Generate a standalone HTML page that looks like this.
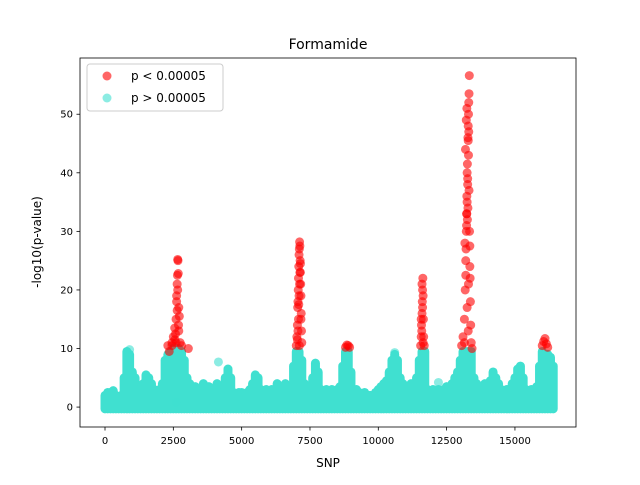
<!DOCTYPE html>
<html><head><meta charset="utf-8"><style>
body{margin:0;background:#fff;font-family:"Liberation Sans","DejaVu Sans",sans-serif}
</style></head><body>
<svg id="chart" width="640" height="480" xmlns="http://www.w3.org/2000/svg" font-family="DejaVu Sans, Liberation Sans, sans-serif">
<rect width="640" height="480" fill="#fff"/>
<g id="plot"></g>
<g id="axes"></g>
<text x="328" y="49" text-anchor="middle" font-size="14">Formamide</text>
<text x="328" y="467" text-anchor="middle" font-size="12">SNP</text>
<text transform="translate(41,242) rotate(-90)" text-anchor="middle" font-size="12">-log10(p-value)</text>
<g>
<rect x="87" y="64" width="136" height="47" rx="3" fill="#fff" fill-opacity="0.8" stroke="#ccc"/>
<circle cx="107" cy="76" r="4.5" fill="#ff0000" fill-opacity="0.6"/>
<text x="131" y="80" font-size="12">p &lt; 0.00005</text>
<circle cx="107" cy="98" r="4.5" fill="#40e0d0" fill-opacity="0.6"/>
<text x="131" y="102" font-size="12">p &gt; 0.00005</text>
</g>
</svg>
<script>
const xTicks=[0,2500,5000,7500,10000,12500,15000];
const yTicks=[0,10,20,30,40,50];
const bandStep=100;
const bandTop=[2,2.5,2.5,2.8,2,1.5,2,5,9.5,9,6,5,3,3,4,5.5,5,4,3,2.5,3,4,8,9,9.5,10,10,10,9.5,8,5,4,3,3.5,3,2.5,4,3,3.5,3,3,4,3,2.5,5,6.5,5,2.5,2,2.5,2.5,2,2.5,3,4,5.5,5,3,2.5,3,2.5,3,2.5,4,3.5,3,4,3,3.5,7,9.5,9.5,8,4,3,3,5,7.5,6,3,2.5,3,2.5,3,2.5,3,3.5,7,9.5,9.5,6,3,3,2.5,2,2.5,2,2,2,2.5,3,3.5,4,4.5,6,8,9,8,5,4,3,3,4,3.5,5,8,9.5,9.5,3,2.5,3,2.5,3,2.5,3,3.5,3,4,5,6,8,9.5,9.5,9.5,9.5,5,4,3,3.5,4,4,4.5,6,5,4,3,2.5,3,3,4,5,6.5,7,5,3,2.5,3,3,3.5,7,9.5,9,9,8.5,7];
const cyanX=[4150,12200,2600,900,10600];
const cyanY=[7.7,4.2,0.8,9.8,9.3];
const redX=[2300,2350,2450,2500,2550,2600,2620,2640,2650,2660,2670,2680,2700,2720,2700,2750,2800,3050,2450,2600,2580,2640,2660,2620,2690,2560,
7000,7020,7040,7050,7060,7070,7080,7090,7100,7110,7120,7130,7140,7150,7160,7170,7180,7190,7200,7080,7110,7060,7090,7120,7150,7100,7130,7040,7170,
8800,8850,8900,8950,
11550,11570,11580,11600,11610,11620,11630,11640,11650,11660,11680,11590,11620,11600,11640,11570,
13050,13100,13150,13180,13200,13220,13230,13240,13250,13260,13280,13290,13300,13310,13320,13330,13290,13270,13340,13350,13360,13370,13380,13400,13430,13200,13150,13210,13230,13250,13270,13300,13310,13240,13260,13280,13320,13190,13220,13250,13300,13350,13170,13240,13290,
16000,16050,16100,16150,16200];
const redY=[10.5,9.5,11,12,13.5,15,19,21,22.5,25.2,25,22.8,17,15.5,13,11,10.5,10,10.5,11,12.5,16.5,20,18,14,11.5,
10.5,12,14,17,18,20,22,24,26,27,28.2,27.5,25,23,21,19,16,13,11,15,10.5,13,17.5,21,24.5,19,23,11.5,15,
10.2,10.6,10.5,10.2,
10.5,12,14,16,18,20,22,19,15,12,10.5,13,17,21,11,15,
10.5,12,15,20,25,30,33,36,40,41.5,46,48,50,52,53.5,56.6,45.5,38,30,27.5,22,18,14,11,10,22.5,11,27,31,35,39,43,47,51,32,34,37,44,49,17,21,24,28,33,13,
10.5,11.2,11.7,10.8,10.2];

const L=80,R=576,T=58,B=427,xmin=-915,xmax=17234,ymin=-3.4,ymax=59.6;
const sx=v=>L+(v-xmin)/(xmax-xmin)*(R-L);
const sy=v=>B-(v-ymin)/(ymax-ymin)*(B-T);
const NS="http://www.w3.org/2000/svg";
const plot=document.getElementById('plot'),axes=document.getElementById('axes');
function mk(tag,attrs,parent){const e=document.createElementNS(NS,tag);for(const k in attrs)e.setAttribute(k,attrs[k]);parent.appendChild(e);return e;}

bandTop.forEach((v,i)=>{
  const x=sx(i*bandStep);
  const e=mk('line',{x1:x,x2:x,y1:sy(-0.3),y2:sy(v),stroke:'#40e0d0','stroke-width':9,'stroke-linecap':'round'},plot);
  
  
});
cyanX.forEach((x,i)=>{
  const e=mk('circle',{cx:sx(x),cy:sy(cyanY[i]),r:4.5,fill:'#40e0d0','fill-opacity':0.6},plot);
  
  
});
redX.forEach((x,i)=>{
  const e=mk('circle',{cx:sx(x),cy:sy(redY[i]),r:4.5,fill:'#ff0000','fill-opacity':0.6},plot);
  
  
});

const fr=mk('rect',{x:L,y:T,width:R-L,height:B-T,fill:'none',stroke:'#000','stroke-width':0.8},axes);


xTicks.forEach(t=>{
  const x=sx(t);
  mk('line',{x1:x,x2:x,y1:B,y2:B+3.5,stroke:'#000','stroke-width':0.8},axes);
  const tx=mk('text',{x:x,y:B+17,'text-anchor':'middle','font-size':10},axes);
  tx.textContent=t;
  
  
});
yTicks.forEach(t=>{
  const y=sy(t);
  mk('line',{x1:L-3.5,x2:L,y1:y,y2:y,stroke:'#000','stroke-width':0.8},axes);
  const tx=mk('text',{x:L-7,y:y+3.5,'text-anchor':'end','font-size':10},axes);
  tx.textContent=t;
  
  
});
</script>
</body></html>
